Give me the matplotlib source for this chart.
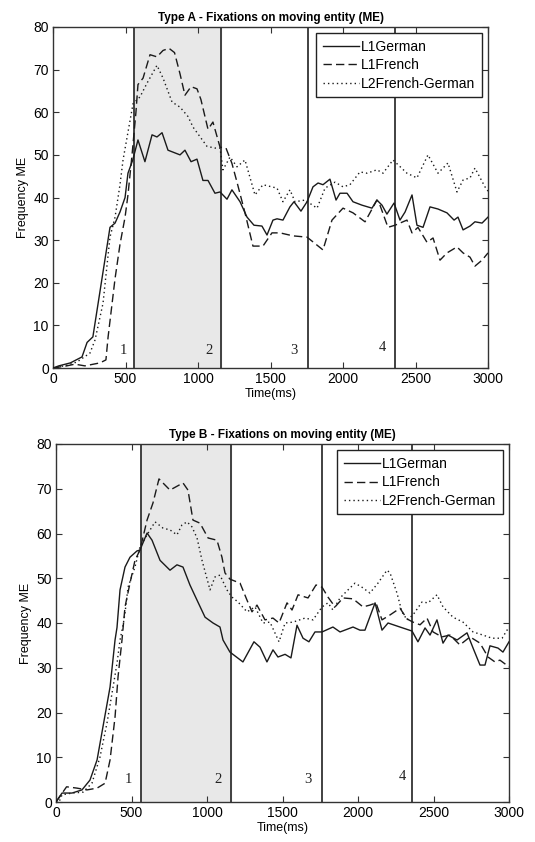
import matplotlib
matplotlib.use("Agg")
import matplotlib.pyplot as plt
import numpy as np

plt.rcParams['font.family'] = ['Liberation Sans', 'DejaVu Sans']

# ---------------- Data: Type A ----------------
a_german_t = [0, 40, 120, 200, 235, 275, 393, 428, 462, 497, 517, 550, 586, 634, 683, 717, 752, 793, 876, 910,
              952, 993, 1034, 1069, 1117, 1152, 1200, 1234, 1290, 1338, 1386, 1441, 1476, 1517, 1545, 1586, 1634,
              1662, 1710, 1752, 1793, 1828, 1862, 1910, 1952, 1979, 2028, 2069, 2131, 2200, 2234, 2269, 2303, 2352,
              2393, 2428, 2476, 2510, 2552, 2600, 2655, 2717, 2766, 2793, 2828, 2876, 2910, 2959, 3000]
a_german_v = [0, 0.5, 1.2, 2.6, 6, 7.3, 33, 34, 36.6, 40, 45.7, 48.8, 53.5, 48.4, 54.7, 54.2, 55.2, 51.1, 50, 51.1,
              48.4, 49, 44, 44, 41, 41.3, 39.6, 41.8, 39, 35.4, 33.5, 33.3, 31.2, 34.7, 35, 34.7, 37.8,
              39, 36.8, 39, 42.5, 43.4, 43, 44.3, 39.4, 41, 41, 39, 38.2, 37.5, 39.4, 38.2, 36.1, 38.7,
              34.7, 36.6, 40.6, 33.5, 33, 37.8, 37.3, 36.4, 34.7, 35.4, 32.4, 33.3, 34.3, 34, 35.4]

a_french_t = [0, 95, 150, 220, 324, 365, 380, 428, 462, 497, 517, 545, 572, 586, 621, 669, 717, 759, 800, 838, 876,
              910, 952, 993, 1020, 1069, 1103, 1152, 1193, 1234, 1269, 1324, 1379, 1448, 1510, 1566, 1655, 1752,
              1862, 1924, 2000, 2069, 2152, 2234, 2255, 2310, 2359, 2441, 2476, 2517, 2579, 2621, 2669, 2717, 2786,
              2828, 2876, 2910, 2959, 3000]
a_french_v = [0, 0.5, 0.9, 0.5, 1.2, 1.9, 7.3, 21, 29, 35.4, 40.6, 50, 60, 66.5, 68, 73.5, 73, 74.5, 75, 74, 69,
              64, 66, 65.5, 63, 56, 57.7, 51.8, 51.6, 48, 43.6, 36.4, 28.6, 28.6, 31.7, 31.7, 31, 30.7,
              27.7, 34.7, 37.5, 36.4, 34.3, 39.4, 38.2, 33, 33.5, 34.7, 31.7, 33, 29.5, 30.5, 25.3, 27, 28.4,
              27, 26, 23.9, 25.3, 27]

a_l2_t = [0, 90, 165, 255, 290, 345, 393, 428, 462, 483, 552, 600, 648, 717, 759, 821, 876, 931, 966, 1062, 1117,
          1152, 1172, 1221, 1269, 1324, 1393, 1448, 1545, 1586, 1634, 1669, 1738, 1821, 1876, 1945, 2000, 2048,
          2117, 2166, 2234, 2276, 2345, 2441, 2510, 2586, 2655, 2724, 2786, 2828, 2876, 2910, 2979, 3000]
a_l2_v = [0, 0.6, 1.4, 3.5, 6.6, 15.2, 30.7, 35.4, 43, 48.8, 62, 63.6, 66.8, 71, 68, 62.4, 61.2, 59, 56.5, 52, 51.6,
          51.6, 46.5, 49.5, 47.2, 48.8, 40.6, 43, 42.2, 39, 41.8, 39, 39.4, 37.5, 42.2, 43.6, 42.5, 43,
          46, 45.7, 46.5, 45.7, 48.8, 45.7, 44.6, 50, 45.7, 48.1, 41.3, 44.1, 44.6, 46.9, 42.5, 41.5]

# ---------------- Data: Type B ----------------
b_german_t = [0, 40, 106, 172, 225, 272, 311, 358, 391, 404, 424, 457, 490, 536, 556, 603, 636, 689, 755, 801, 841,
              887, 934, 987, 1040, 1086, 1106, 1152, 1238, 1311, 1351, 1397, 1437, 1470, 1517, 1556, 1596, 1636,
              1675, 1715, 1762, 1834, 1881, 1967, 2013, 2046, 2113, 2159, 2199, 2278, 2358, 2397, 2444, 2477, 2523,
              2563, 2596, 2656, 2722, 2762, 2808, 2841, 2874, 2927, 2960, 3000]
b_german_v = [0, 2, 2, 2.7, 4.9, 9.4, 16.8, 25.7, 36.2, 39, 47.4, 52.5, 54.7, 56.1, 56.3, 60.1, 58.5, 54, 51.8, 53,
              52.5, 48.5, 45.1, 41.3, 40, 39.1, 36.2, 33.5, 31.3, 35.8, 34.6, 31.3, 34, 32.4, 33, 32.2, 39.5, 36.6,
              35.8, 38, 38, 39.1, 38, 39.1, 38.4, 38.4, 44.5, 38.4, 40, 39.1, 38.2, 35.8, 38.9, 37.3, 40.7,
              35.5, 37.3, 36.2, 37.8, 34.4, 30.6, 30.6, 34.9, 34.4, 33.5, 35.8]

b_french_t = [0, 70, 139, 205, 272, 325, 358, 391, 411, 437, 457, 490, 523, 556, 603, 642, 682, 755, 841, 874, 907,
              954, 1007, 1066, 1099, 1119, 1152, 1219, 1265, 1298, 1331, 1384, 1437, 1477, 1530, 1563, 1603, 1669,
              1722, 1762, 1801, 1848, 1901, 1967, 2033, 2079, 2119, 2159, 2212, 2278, 2325, 2364, 2411, 2457,
              2497, 2556, 2609, 2675, 2742, 2808, 2861, 2907, 2940, 3000]
b_french_v = [0, 3.4, 3.1, 2.7, 3.1, 4.2, 9.4, 19, 28, 36.2, 43.6, 48.9, 54, 56.3, 63, 66.8, 72.2, 69.7, 71.3, 69.7, 63,
              62.3, 59, 58.5, 54.7, 51.2, 49.8, 48.9, 45.1, 42.5, 44, 40.7, 41.1, 40, 44.5, 42.9, 46.3, 45.6,
              48.5, 48, 45.8, 43.6, 45.6, 45.4, 43.6, 44, 44.5, 40.7, 41.8, 43.3, 40.9, 40.2, 39.6, 41.1,
              38, 36.9, 37.3, 35.1, 36.9, 35.5, 32.4, 31.3, 31.7, 30.2]

b_l2_t = [0, 20, 40, 106, 179, 238, 291, 338, 378, 404, 424, 444, 457, 477, 523, 556, 603, 656, 709, 755, 801, 834,
          868, 900, 934, 967, 1020, 1053, 1086, 1132, 1165, 1205, 1265, 1318, 1371, 1417, 1477, 1517, 1570,
          1649, 1702, 1762, 1801, 1834, 1881, 1934, 1980, 2026, 2079, 2132, 2192, 2212, 2258, 2291, 2325,
          2364, 2424, 2464, 2523, 2563, 2629, 2695, 2762, 2828, 2887, 2954, 3000]
b_l2_v = [0, 0, 1.6, 2, 2.2, 4.2, 10, 17.7, 25.7, 31, 36.2, 39.5, 42.2, 48, 52.5, 57, 59.7, 62.6, 61.2, 60.8, 59.7,
          61.9, 62.6, 61.5, 59, 54, 47.4, 50.3, 50.7, 47.4, 45.8, 44.7, 42.5, 43.6, 40, 40.2, 35.8, 40, 40.2,
          41.1, 40.7, 43.6, 44.5, 42.9, 45.6, 47.4, 48.9, 48, 46.7, 48.9, 51.8, 51.2, 46.7, 42.5, 40.7,
          41.8, 44.7, 44.5, 46.3, 43.6, 41.3, 40.2, 38, 37.3, 36.6, 36.6, 39.1]

series_names = ["L1German", "L1French", "L2French-German"]
phase_bounds = [560, 1160, 1760, 2360]
phase_labels = ["1", "2", "3", "4"]
titles = ["Type A - Fixations on moving entity (ME)", "Type B - Fixations on moving entity (ME)"]

fig = plt.figure(figsize=(5.35, 8.42), dpi=100)

axes_pos = [[53/535, 1-368/842, 435/535, 341/842],
            [56/535, 1-802/842, 453/535, 358/842]]
data = [[(a_german_t, a_german_v), (a_french_t, a_french_v), (a_l2_t, a_l2_v)],
        [(b_german_t, b_german_v), (b_french_t, b_french_v), (b_l2_t, b_l2_v)]]
label_pos = [[(483, 4.2), (1076, 4.2), (1662, 4.2), (2269, 4.8)],
             [(477, 5.1), (1073, 5.1), (1669, 5.1), (2291, 5.8)]]

line_col = '#1a1a1a'
styles = [dict(linestyle='-'), dict(linestyle=(0, (6, 3))), dict(linestyle=(0, (1, 2.2)))]

for i in range(2):
    ax = fig.add_axes(axes_pos[i])
    ax.axvspan(phase_bounds[0], phase_bounds[1], color='#e8e8e8', zorder=0)
    for b in phase_bounds:
        ax.axvline(b, color='#333333', lw=1.3, zorder=1)
    for (t, v), name, st in zip(data[i], series_names, styles):
        ax.plot(t, v, color=line_col, lw=1.0, label=name, zorder=3, **st)
    for (x, y), lab in zip(label_pos[i], phase_labels):
        ax.text(x, y, lab, family='Liberation Serif', fontsize=10.5, ha='center', va='center', color='#222222')
    ax.set_xlim(0, 3000)
    ax.set_ylim(0, 80)
    ax.set_xticks(np.arange(0, 3001, 500))
    ax.set_yticks(np.arange(0, 81, 10))
    ax.tick_params(direction='in', top=True, right=True, length=4, labelsize=10, pad=3, color='#333333')
    for s in ax.spines.values():
        s.set_color('#333333')
        s.set_linewidth(1.0)
    ax.set_title(titles[i], fontsize=8.5, fontweight='bold', pad=4)
    ax.set_xlabel("Time(ms)", fontsize=9, labelpad=1)
    ax.set_ylabel("Frequency ME", fontsize=9, labelpad=3)
    leg = ax.legend(loc='upper right', fontsize=10, handlelength=2.6, handletextpad=0.1,
                    borderpad=0.5, labelspacing=0.3, fancybox=False, framealpha=1,
                    borderaxespad=0.45)
    leg.get_frame().set_edgecolor('#222222')
    leg.get_frame().set_linewidth(1.0)

fig.savefig("out.png", dpi=100)
